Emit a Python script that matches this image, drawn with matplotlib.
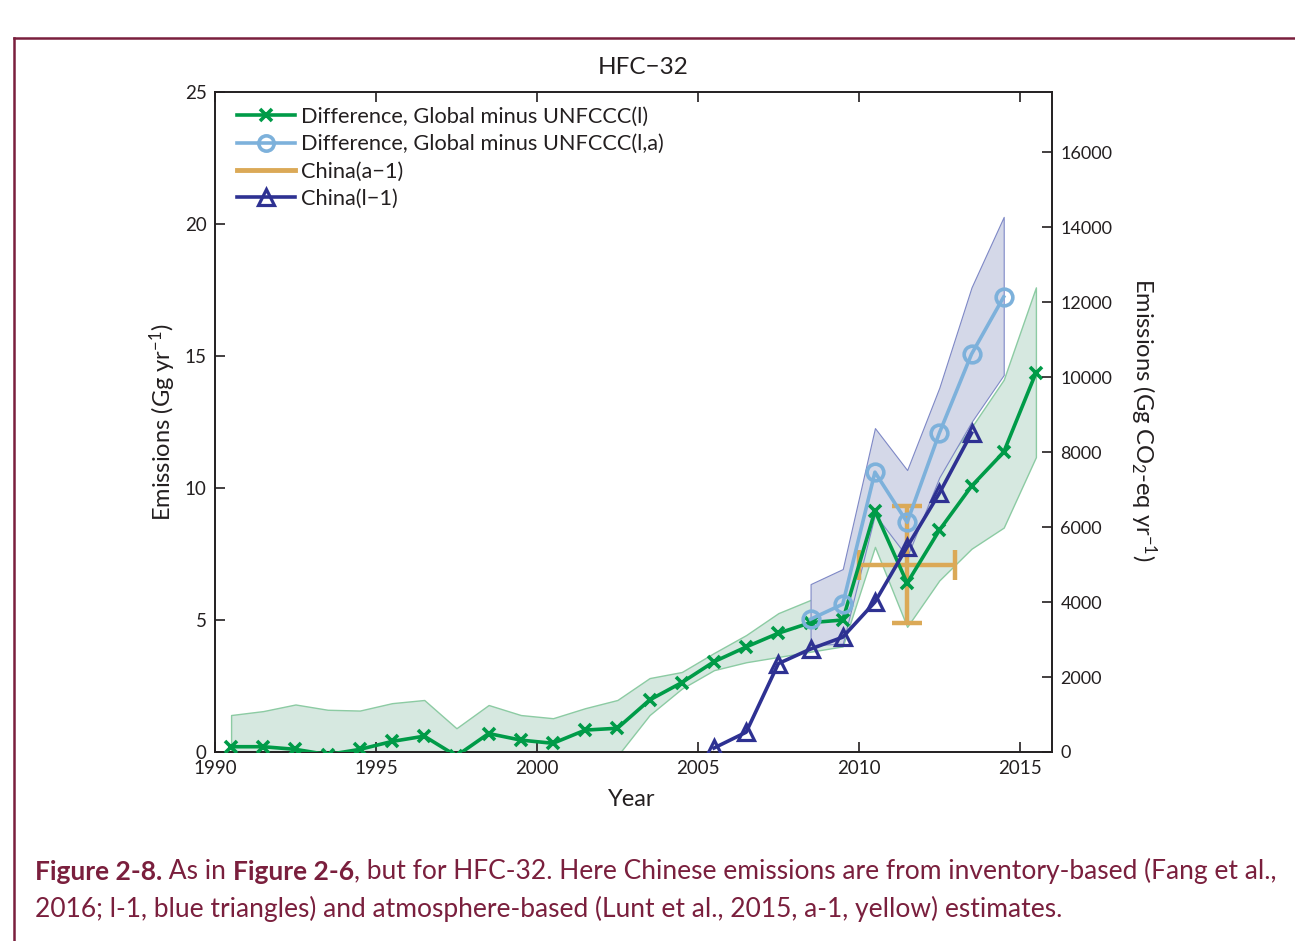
import matplotlib
matplotlib.use("Agg")
import matplotlib.pyplot as plt
import matplotlib.text as mtext
from matplotlib.lines import Line2D

plt.rcParams['font.family'] = ['Lato', 'DejaVu Sans']
plt.rcParams['mathtext.fontset'] = 'custom'
plt.rcParams['mathtext.rm'] = 'Lato'
plt.rcParams['mathtext.it'] = 'Lato:italic'

# ---------------- data ----------------
years = [1990.5, 1991.5, 1992.5, 1993.5, 1994.5, 1995.5, 1996.5, 1997.5, 1998.5,
         1999.5, 2000.5, 2001.5, 2002.5, 2003.5, 2004.5, 2005.5, 2006.5, 2007.5,
         2008.5, 2009.5, 2010.5, 2011.5, 2012.5, 2013.5, 2014.5, 2015.5]
diff_l = [0.2, 0.2, 0.1, -0.1, 0.1, 0.4, 0.6, -0.15, 0.7, 0.45, 0.33, 0.83, 0.9,
          1.97, 2.63, 3.42, 3.98, 4.5, 4.9, 5.0, 9.13, 6.4, 8.4, 10.07, 11.36, 14.36]
diff_l_hi = [1.4, 1.55, 1.8, 1.6, 1.57, 1.85, 1.97, 0.9, 1.78, 1.4, 1.28, 1.66, 1.97,
             2.8, 3.03, 3.75, 4.43, 5.26, 5.76, 6.0, 10.3, 9.2, 10.7, 12.3, 14.1, 17.6]
diff_l_lo = [-1.1, -1.2, -1.5, -1.8, -1.4, -1.1, -0.8, -1.6, -0.4, -0.6, -0.7, -0.3, -0.15,
             1.4, 2.4, 3.1, 3.4, 3.6, 3.8, 4.0, 7.77, 4.74, 6.5, 7.7, 8.5, 11.17]

years_la = [2008.5, 2009.5, 2010.5, 2011.5, 2012.5, 2013.5, 2014.5]
diff_la = [5.03, 5.6, 10.6, 8.7, 12.08, 15.07, 17.24]
diff_la_hi = [6.36, 6.93, 12.27, 10.68, 13.8, 17.6, 20.27]
diff_la_lo = [4.05, 4.1, 9.0, 7.4, 10.4, 12.5, 14.28]

years_china_l = [2005.5, 2006.5, 2007.5, 2008.5, 2009.5, 2010.5, 2011.5, 2012.5, 2013.5]
china_l = [0.15, 0.75, 3.35, 3.9, 4.35, 5.68, 7.77, 9.8, 12.08]

china_a_year = [2011.5]
china_a = [7.1]
china_a_xerr = [1.5]
china_a_yerr = [2.2]

gwp = 704  # Gg -> Gg CO2-eq

xticks = [1990, 1995, 2000, 2005, 2010, 2015]
yticks = [0, 5, 10, 15, 20, 25]
y2ticks = [0, 2000, 4000, 6000, 8000, 10000, 12000, 14000, 16000]

# ---------------- colours ----------------
c_green = '#009B48'
c_lblue = '#7DB1DB'
c_orange = '#DBA957'
c_dblue = '#2E3192'
c_gfill = '#D6E8E0'
c_gedge = '#8CCBA3'
c_bfill = '#D4D8E8'
c_bedge = '#7E88C6'
c_text = '#231F20'
c_maroon = '#7A1F3D'

W, H = 1295, 941
fig = plt.figure(figsize=(W / 100, H / 100), dpi=100)
fig.patch.set_facecolor('white')

ax = fig.add_axes([215 / W, 1 - 752 / H, (1052 - 215) / W, (752 - 92) / H])

ax.fill_between(years, diff_l_lo, diff_l_hi, facecolor=c_gfill, edgecolor=c_gedge,
                linewidth=1.0, zorder=1)
ax.fill_between(years_la, diff_la_lo, diff_la_hi, facecolor=c_bfill, edgecolor=c_bedge,
                linewidth=0.8, zorder=1.5)

ax.errorbar(china_a_year, china_a, xerr=china_a_xerr, yerr=china_a_yerr, fmt='none',
            ecolor=c_orange, elinewidth=3.2, capsize=11, capthick=3.2, zorder=2)
ax.plot(years, diff_l, color=c_green, lw=2.6, marker='x', ms=9, mew=2.6, zorder=3)
ax.plot(years_la, diff_la, color=c_lblue, lw=2.6, marker='o', ms=12, mew=2.6,
        mfc='none', zorder=4)
ax.plot(years_china_l, china_l, color=c_dblue, lw=2.6, marker='^', ms=12, mew=2.3,
        mfc='none', zorder=5)

ax.set_xlim(1990, 2016)
ax.set_ylim(0, 25)
ax.set_xticks(xticks)
ax.set_yticks(yticks)
ax.tick_params(direction='in', length=7, width=1.2, labelsize=13.5, colors=c_text,
               top=True, right=False, pad=6)
for s in ax.spines.values():
    s.set_linewidth(1.4)
    s.set_color(c_text)

ax2 = ax.twinx()
ax2.set_ylim(0, 25 * gwp)
ax2.set_yticks(y2ticks)
ax2.tick_params(direction='in', length=7, width=1.2, labelsize=13, colors=c_text, pad=6)
for s in ax2.spines.values():
    s.set_visible(False)

# axis labels and title
fig.text(163 / W, 1 - 422 / H, r'Emissions (Gg yr$^{-1}$)', fontsize=17, color=c_text,
         rotation=90, ha='center', va='center')
fig.text(632 / W, 1 - 800 / H, 'Year', fontsize=17, color=c_text,
         ha='center', va='center')
fig.text(1143 / W, 1 - 420 / H, r'Emissions (Gg CO$_2$-eq yr$^{-1}$)', fontsize=17,
         color=c_text, rotation=-90, ha='center', va='center')
fig.text(643 / W, 1 - 68 / H, 'HFC\u221232', fontsize=17.5, color=c_text,
         ha='center', va='center')

handles = [
    Line2D([], [], color=c_green, lw=2.6, marker='x', ms=8, mew=2.6),
    Line2D([], [], color=c_lblue, lw=2.6, marker='o', ms=11, mew=2.6, mfc='none'),
    Line2D([], [], color=c_orange, lw=3.5),
    Line2D([], [], color=c_dblue, lw=2.6, marker='^', ms=11, mew=2.3, mfc='none'),
]
labels = ['Difference, Global minus UNFCCC(l)', 'Difference, Global minus UNFCCC(l,a)',
          'China(a\u22121)', 'China(l\u22121)']
leg = ax.legend(handles, labels, loc='upper left', frameon=False, fontsize=15.7,
                handlelength=2.65, handletextpad=0.27, labelspacing=0.33,
                borderaxespad=0.5, bbox_to_anchor=(0.003, 1.007))
for t in leg.get_texts():
    t.set_color(c_text)

# frame lines
fig.add_artist(Line2D([14 / W, 1.0], [1 - 38 / H, 1 - 38 / H], color=c_maroon, lw=1.8,
                      transform=fig.transFigure))
fig.add_artist(Line2D([14 / W, 14 / W], [1 - 38 / H, 0.0], color=c_maroon, lw=1.8,
                      transform=fig.transFigure))

# caption
cap_fs = 19
pieces1 = [('Figure 2-8.', 'bold'), (' As in ', 'normal'), ('Figure 2-6', 'bold'),
           (', but for HFC-32. Here Chinese emissions are from inventory-based (Fang et al.,',
            'normal')]
prev = fig.text(35 / W, 1 - 880 / H, pieces1[0][0], fontsize=cap_fs,
                fontweight=pieces1[0][1], color=c_maroon, ha='left', va='baseline')
for txt, wt in pieces1[1:]:
    prev = fig.add_artist(mtext.Annotation(
        txt, xy=(1, 0), xycoords=prev, va='bottom', ha='left', fontsize=cap_fs,
        fontweight=wt, color=c_maroon))
fig.text(35 / W, 1 - 917 / H,
         '2016; l-1, blue triangles) and atmosphere-based (Lunt et al., 2015, a-1, yellow) estimates.',
         fontsize=cap_fs, color=c_maroon, ha='left', va='baseline')

fig.savefig('out.png', dpi=100, facecolor='white')
